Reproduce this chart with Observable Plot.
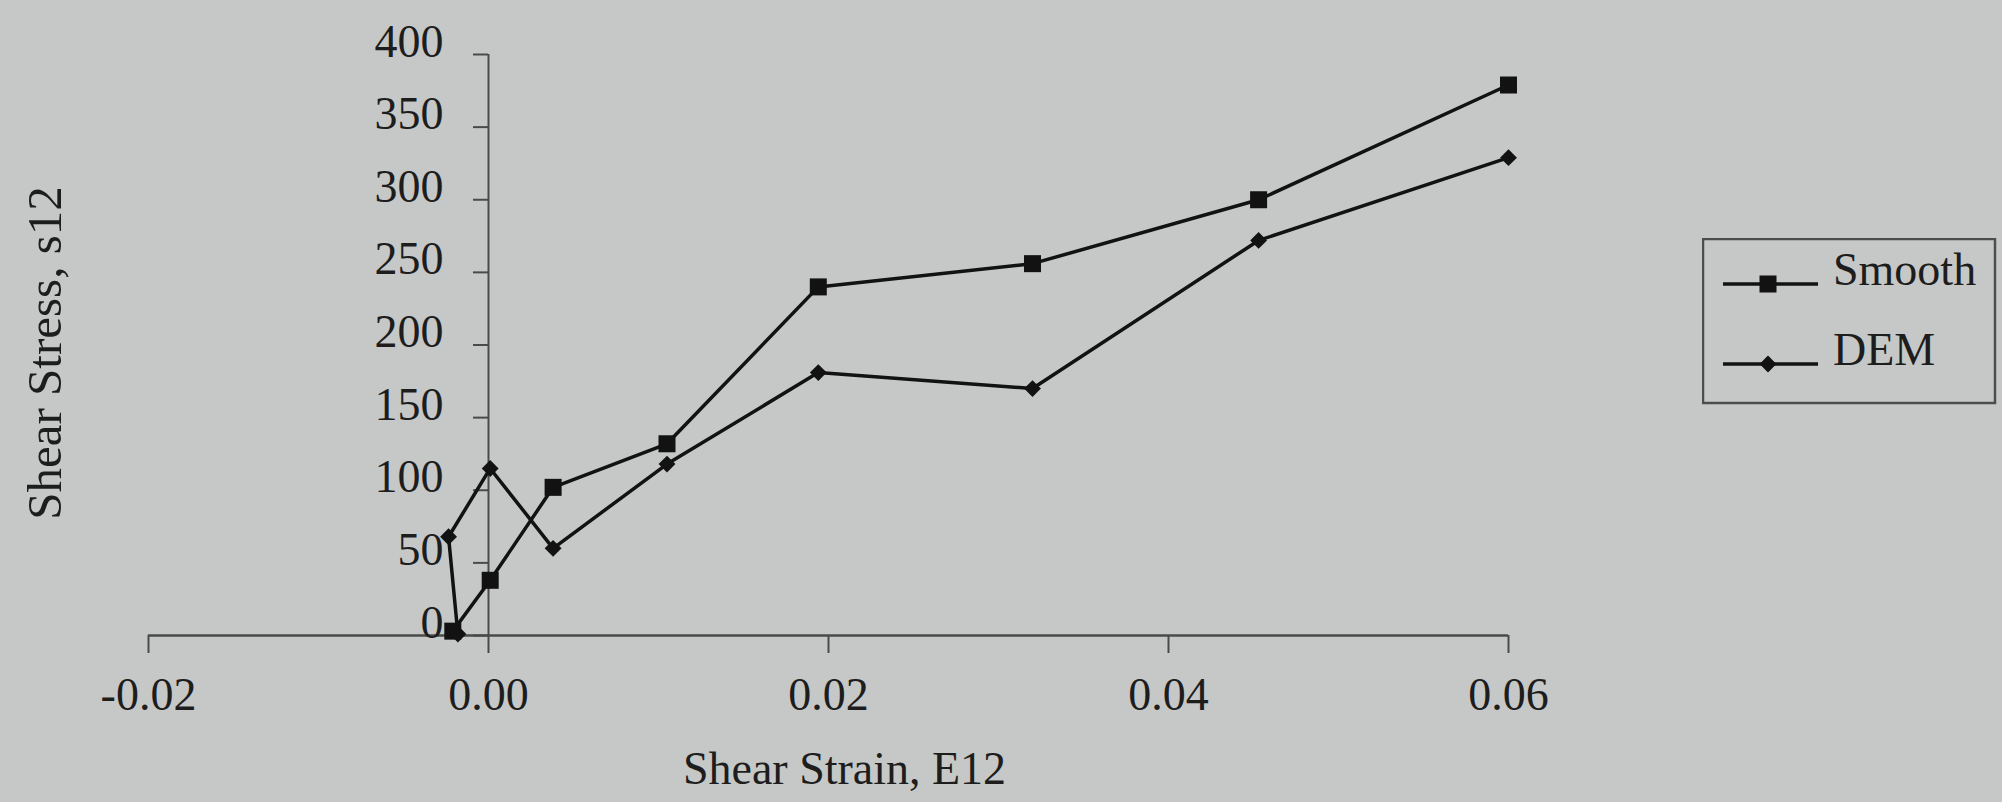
<!DOCTYPE html>
<html><head><meta charset="utf-8">
<script src="https://cdn.jsdelivr.net/npm/d3@7"></script>
<script src="https://cdn.jsdelivr.net/npm/@observablehq/plot@0.6"></script>
<style>
html,body{margin:0;padding:0;background:#c6c8c7;}
#wrap{position:relative;width:2002px;height:802px;overflow:hidden;}
#legend{position:absolute;left:1702px;top:238px;}
</style></head><body><div id="wrap"></div>
<script>
// ---- data ----
const seriesNames = ["Smooth", "DEM"];
const smoothStrain = [-0.0021, 0.0001, 0.0038, 0.0105, 0.0194, 0.0320, 0.0453, 0.0600];
const smoothStress = [3, 38, 102, 132, 240, 256, 300, 379];
const demStrain = [-0.0018, -0.00235, 0.0001, 0.0038, 0.0105, 0.0194, 0.0320, 0.0453, 0.0600];
const demStress = [1, 68, 115, 60, 118, 181, 170, 272, 329];
const xTicks = [-0.02, 0, 0.02, 0.04, 0.06];
const xTickLabels = ["-0.02", "0.00", "0.02", "0.04", "0.06"];
const yTicks = [0, 50, 100, 150, 200, 250, 300, 350, 400];
const yTickLabels = ["0", "50", "100", "150", "200", "250", "300", "350", "400"];
const xLabel = "Shear Strain, E12";
const yLabel = "Shear Stress, s12";

const smooth = smoothStrain.map((x, i) => ({series: seriesNames[0], x, y: smoothStress[i]}));
const dem = demStrain.map((x, i) => ({series: seriesNames[1], x, y: demStress[i]}));

const ink = "#1d1d1d", axisInk = "#4a4a4a", bg = "#c6c8c7", lineInk = "#121212";
const font = "'Liberation Serif', 'Times New Roman', serif";
const rSquare = 9.6, rDiamond = 7.6;

const plot = Plot.plot({
  width: 2002, height: 802,
  marginLeft: 148, marginRight: 494, marginTop: 54, marginBottom: 167,
  style: {background: bg, fontFamily: font, fontSize: "46px", color: ink, overflow: "visible"},
  x: {domain: [-0.02, 0.06]},
  y: {domain: [0, 400]},
  marks: [
    Plot.ruleY([0], {stroke: axisInk, strokeWidth: 2.5}),
    Plot.axisX({ticks: xTicks, tickFormat: d => xTickLabels[xTicks.indexOf(d)], tickSize: 18, tickPadding: 24,
      stroke: axisInk, strokeWidth: 2, fill: ink, fontSize: 46, label: null}),
    Plot.axisY({ticks: [], tickSize: 0, label: null}),
    Plot.text([xLabel], {frameAnchor: "bottom", text: d => d, lineAnchor: "bottom", textAnchor: "middle",
      dx: 16, dy: 148, fill: ink, fontSize: 46}),
    Plot.text([yLabel], {frameAnchor: "left", text: d => d, rotate: -90, lineAnchor: "middle", textAnchor: "middle",
      dx: -103, dy: 8, fill: ink, fontSize: 49}),
    Plot.ruleX([0], {y1: 0, y2: 400, stroke: axisInk, strokeWidth: 2}),
    Plot.ruleY(yTicks, {y: d => d, x1: 0, x2: 0, insetLeft: -15, stroke: axisInk, strokeWidth: 2}),
    Plot.text(yTicks, {x: 0, y: d => d, text: (d, i) => yTickLabels[i], textAnchor: "end", lineAnchor: "bottom",
      dx: -45, dy: 2, fill: ink, fontSize: 46}),
    Plot.line(smooth, {x: "x", y: "y", stroke: lineInk, strokeWidth: 3.5}),
    Plot.line(dem, {x: "x", y: "y", stroke: lineInk, strokeWidth: 3.5}),
    Plot.dot(smooth, {x: "x", y: "y", symbol: "square", r: rSquare, fill: lineInk}),
    Plot.dot(dem, {x: "x", y: "y", symbol: "diamond2", r: rDiamond, fill: lineInk})
  ]
});
document.getElementById("wrap").appendChild(plot);

// ---- legend (right side box) ----
const leg = d3.select("#wrap").append("svg").attr("id", "legend")
  .attr("width", 296).attr("height", 168)
  .style("font-family", font).style("font-size", "46px");
leg.append("rect").attr("x", 1).attr("y", 1).attr("width", 292).attr("height", 164)
  .attr("fill", "none").attr("stroke", "#4d4d4d").attr("stroke-width", 2.5);
const symbols = [d3.symbol(d3.symbolSquare, rSquare * rSquare * Math.PI), d3.symbol(d3.symbolDiamond2, rDiamond * rDiamond * Math.PI)];
seriesNames.forEach((name, i) => {
  const y = 46 + i * 80;
  const g = leg.append("g");
  g.append("line").attr("x1", 21).attr("x2", 116).attr("y1", y).attr("y2", y)
    .attr("stroke", lineInk).attr("stroke-width", 3.5);
  g.append("path").attr("d", symbols[i]()).attr("transform", `translate(66,${y})`).attr("fill", lineInk);
  g.append("text").attr("x", 131).attr("y", y + 1).attr("fill", ink).text(name);
});
</script>
</body></html>
